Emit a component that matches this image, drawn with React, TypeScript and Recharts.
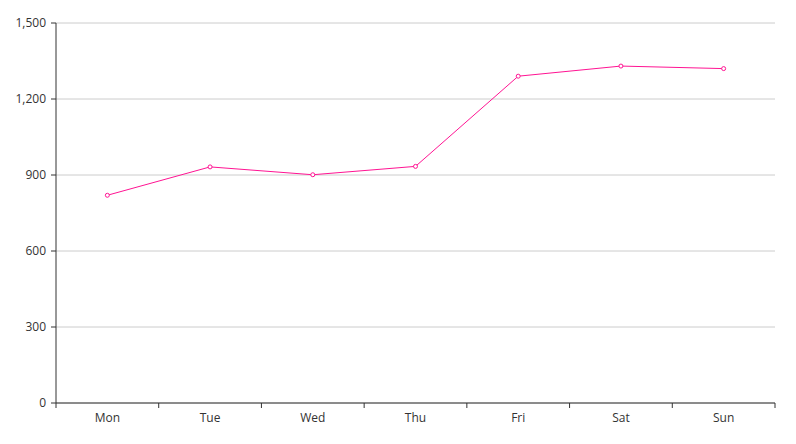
import React from "react";
import { LineChart, Line, XAxis, YAxis, CartesianGrid } from "recharts";

const days = ["Mon", "Tue", "Wed", "Thu", "Fri", "Sat", "Sun"];
const values = [820, 932, 901, 934, 1290, 1330, 1320];
const yTicks = [0, 300, 600, 900, 1200, 1500];

const data = days.map((d, i) => ({ day: d, pos: i + 0.5, value: values[i] }));
const xTicks: number[] = [];
for (let i = 0; i <= days.length * 2; i++) xTicks.push(i / 2);

const FONT = "'Open Sans', 'Noto Sans', sans-serif";
const TICK_SIZE = 5;
const TICK_MARGIN = 2;

const XTick = (props: any) => {
  const { x, y, payload } = props;
  const v = payload.value as number;
  const axisY = y - TICK_SIZE - TICK_MARGIN;
  if (Number.isInteger(v)) {
    return <line x1={x} x2={x} y1={axisY} y2={axisY + TICK_SIZE} stroke="#333" strokeWidth={1} />;
  }
  const idx = Math.floor(v);
  return (
    <text x={x} y={axisY + 19} textAnchor="middle" fill="#333" fontSize={12} fontFamily={FONT}>
      {days[idx]}
    </text>
  );
};

export default function App() {
  return (
    <div style={{ position: "absolute", left: 0, top: 0, width: 796, height: 444, background: "#fff" }}>
      <LineChart width={796} height={444} data={data} margin={{ top: 23, right: 21, bottom: 11, left: 0 }}>
        <CartesianGrid vertical={false} stroke="#ccc" strokeWidth={1} />
        <XAxis
          dataKey="pos"
          type="number"
          domain={[0, days.length]}
          ticks={xTicks}
          interval={0}
          tick={<XTick />}
          tickLine={false}
          tickSize={TICK_SIZE}
          tickMargin={TICK_MARGIN}
          height={30}
          stroke="#333"
          axisLine={{ stroke: "#333" }}
        />
        <YAxis
          type="number"
          domain={[0, 1500]}
          ticks={yTicks}
          interval={0}
          width={56}
          tickSize={TICK_SIZE}
          tickMargin={5}
          stroke="#333"
          tick={{ fill: "#333", fontSize: 12, fontFamily: FONT }}
          tickFormatter={(v: number) => v.toLocaleString("en-US")}
        />
        <Line
          type="linear"
          dataKey="value"
          stroke="#ff1493"
          strokeWidth={1}
          dot={{ r: 2, stroke: "#ff1493", strokeWidth: 1, fill: "#fff" }}
          isAnimationActive={false}
        />
      </LineChart>
    </div>
  );
}
